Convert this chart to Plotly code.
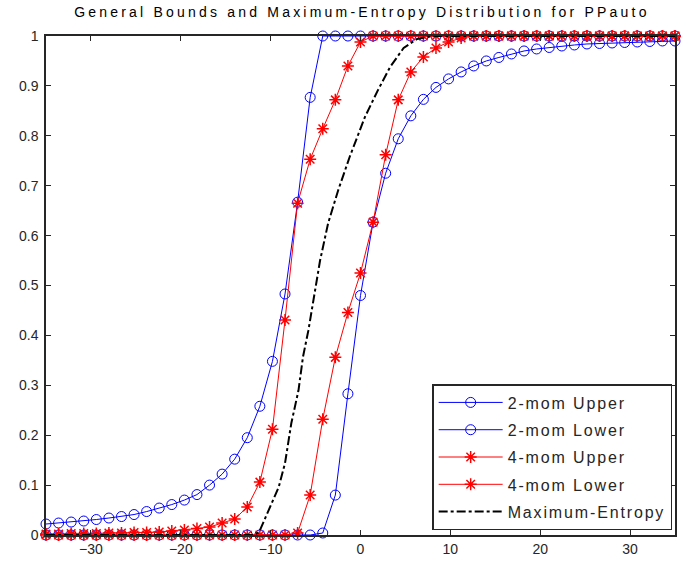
import plotly.graph_objects as go

x_grid = [-35, -33.6, -32.2, -30.8, -29.4, -28, -26.6, -25.2, -23.8, -22.4,
          -21, -19.6, -18.2, -16.8, -15.4, -14, -12.6, -11.2, -9.8, -8.4,
          -7, -5.6, -4.2, -2.8, -1.4, 0, 1.4, 2.8, 4.2, 5.6,
          7, 8.4, 9.8, 11.2, 12.6, 14, 15.4, 16.8, 18.2, 19.6,
          21, 22.4, 23.8, 25.2, 26.6, 28, 29.4, 30.8, 32.2, 33.6, 35]

mom2_upper = [0.022, 0.024, 0.026, 0.028, 0.031, 0.034, 0.037, 0.041, 0.047, 0.054,
              0.061, 0.070, 0.081, 0.100, 0.122, 0.152, 0.195, 0.258, 0.348, 0.483,
              0.667, 0.877] + [1.0] * 29

mom2_lower = [0.0] * 22 + [0.004, 0.08, 0.283, 0.48, 0.627, 0.725, 0.794, 0.84, 0.873,
                           0.897, 0.914, 0.928, 0.94, 0.95, 0.957, 0.964, 0.97, 0.974,
                           0.977, 0.98, 0.982, 0.984, 0.985, 0.986, 0.987, 0.988, 0.989,
                           0.99, 0.99]

mom4_upper = [0.002, 0.002, 0.003, 0.003, 0.003, 0.004, 0.004, 0.005, 0.005, 0.006,
              0.008, 0.010, 0.013, 0.016, 0.024, 0.032, 0.056, 0.106, 0.212, 0.431,
              0.665, 0.753, 0.814, 0.872, 0.94, 0.988] + [1.0] * 25

mom4_lower = [0.0] * 20 + [0.004, 0.08, 0.232, 0.356, 0.446, 0.525, 0.627, 0.762, 0.872,
                           0.928, 0.958, 0.976, 0.988, 0.996] + [1.0] * 17

maxent_x = [-35, -12, -11.3, -10.2, -9.1, -8.4, -7.7, -6.9, -6.4, -5.8, -5.3, -4.5,
            -3.6, -2.5, -1.2, 0.5, 1.9, 3.3, 4.8, 6.3, 8, 35]
maxent_y = [0, 0, 0.005, 0.05, 0.096, 0.144, 0.224, 0.29, 0.357, 0.41, 0.465, 0.55,
            0.625, 0.69, 0.758, 0.838, 0.89, 0.938, 0.976, 0.994, 1.0, 1.0]

series_names = ["2-mom Upper", "2-mom Lower", "4-mom Upper", "4-mom Lower", "Maximum-Entropy"]
title_text = "General Bounds and Maximum-Entropy Distribution for PPauto"

x_ticks = [-30, -20, -10, 0, 10, 20, 30]
y_ticks = [0, 0.1, 0.2, 0.3, 0.4, 0.5, 0.6, 0.7, 0.8, 0.9, 1]
y_tick_text = ["0", "0.1", "0.2", "0.3", "0.4", "0.5", "0.6", "0.7", "0.8", "0.9", "1"]

BLUE = "#0000ff"
RED = "#ff0000"
FONT = "Liberation Sans, Arial, sans-serif"


def spaced(s, px):
    return f'<span style="letter-spacing:{px}px">{s}</span>'


fig = go.Figure()
series = [(mom2_upper, BLUE, "circle-open", 1), (mom2_lower, BLUE, "circle-open", 1),
          (mom4_upper, RED, "asterisk-open", 1.5), (mom4_lower, RED, "asterisk-open", 1.5)]
for i, (ys, col, sym, mw) in enumerate(series):
    fig.add_trace(go.Scatter(x=x_grid, y=ys, name=spaced(series_names[i], 1.85), mode="lines+markers",
                             line=dict(color=col, width=1),
                             marker=dict(symbol=sym, size=10, color=col, line=dict(width=mw, color=col)),
                             cliponaxis=False, legendgroup=f"g{i}"))
fig.add_trace(go.Scatter(x=maxent_x, y=maxent_y, name=spaced(series_names[4], 1.85), mode="lines",
                         line=dict(color="black", width=2, dash="dashdot"),
                         cliponaxis=False, legendgroup="g4"))

axis_common = dict(showgrid=False, zeroline=False, showline=True, linecolor="#262626",
                   linewidth=1.5, mirror="ticks", ticks="inside", ticklen=5, tickwidth=1.2,
                   tickcolor="#262626", tickfont=dict(family=FONT, size=14, color="#262626"))

fig.update_layout(
    width=681, height=562,
    margin=dict(l=46, r=4, t=36, b=27),
    plot_bgcolor="white", paper_bgcolor="white",
    title=dict(text=spaced(title_text, 3.2),
               x=0.5315, xanchor="center", y=1 - 12 / 562, yanchor="middle", yref="container",
               font=dict(family=FONT, size=14, color="black")),
    xaxis=dict(range=[-35, 35], tickvals=x_ticks, **axis_common),
    yaxis=dict(range=[0, 1], tickvals=y_ticks, ticktext=y_tick_text, ticklabelstandoff=3, **axis_common),
    legend=dict(x=0.9955, y=0.01, xanchor="right", yanchor="bottom",
                bordercolor="#262626", borderwidth=1.5, bgcolor="white",
                font=dict(family=FONT, size=16, color="#262626"),
                itemwidth=64, tracegroupgap=3.5, traceorder="grouped"),
    showlegend=True,
)

fig.write_html("out.html")
